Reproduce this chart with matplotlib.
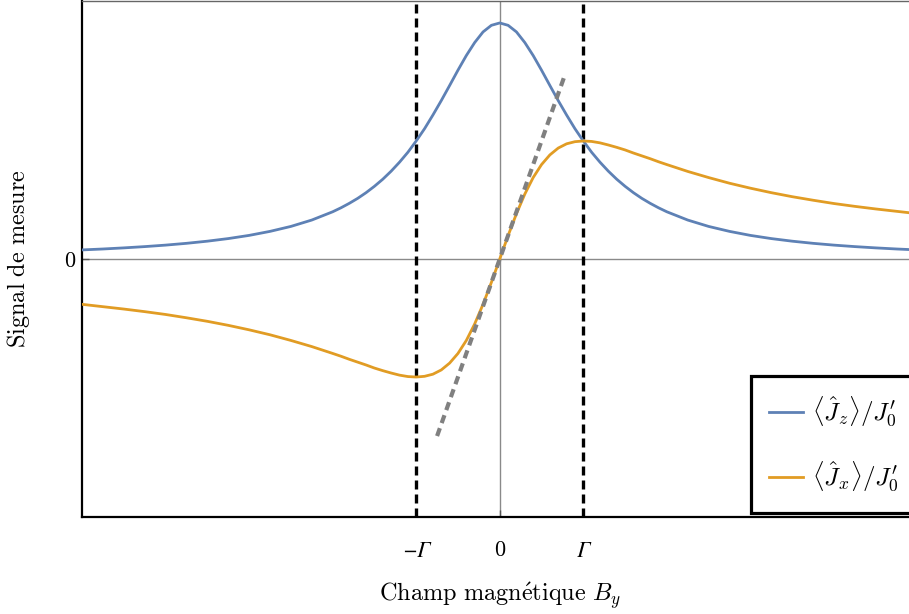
import numpy as np
import matplotlib.pyplot as plt

plt.rcParams['mathtext.fontset'] = 'cm'
plt.rcParams['font.family'] = ['Liberation Serif', 'DejaVu Serif']

# champ en unites de Gamma
B = [-5, -4.75, -4.5, -4.25, -4, -3.75, -3.5, -3.25, -3, -2.75, -2.5, -2.25,
     -2, -1.9, -1.8, -1.7, -1.6, -1.5, -1.4, -1.3, -1.2, -1.1,
     -1, -0.9, -0.8, -0.7, -0.6, -0.5, -0.4, -0.3, -0.2, -0.1,
     0, 0.1, 0.2, 0.3, 0.4, 0.5, 0.6, 0.7, 0.8, 0.9,
     1, 1.1, 1.2, 1.3, 1.4, 1.5, 1.6, 1.7, 1.8, 1.9,
     2, 2.25, 2.5, 2.75, 3, 3.25, 3.5, 3.75, 4, 4.25, 4.5, 4.75, 5]
Jz = [0.0385, 0.0424, 0.0471, 0.0525, 0.0588, 0.0664, 0.0755, 0.0865, 0.100,
      0.117, 0.138, 0.165,
      0.200, 0.217, 0.236, 0.257, 0.281, 0.308, 0.338, 0.372, 0.410, 0.452,
      0.500, 0.552, 0.610, 0.671, 0.735, 0.800, 0.862, 0.917, 0.962, 0.990,
      1.000, 0.990, 0.962, 0.917, 0.862, 0.800, 0.735, 0.671, 0.610, 0.552,
      0.500, 0.452, 0.410, 0.372, 0.338, 0.308, 0.281, 0.257, 0.236, 0.217,
      0.200, 0.165, 0.138, 0.117, 0.100, 0.0865, 0.0755, 0.0664, 0.0588,
      0.0525, 0.0471, 0.0424, 0.0385]
Jx = [-0.192, -0.202, -0.212, -0.223, -0.235, -0.249, -0.264, -0.281, -0.300,
      -0.321, -0.345, -0.371,
      -0.400, -0.412, -0.425, -0.437, -0.449, -0.462, -0.473, -0.483, -0.492,
      -0.498,
      -0.500, -0.497, -0.488, -0.470, -0.441, -0.400, -0.345, -0.275, -0.192,
      -0.099,
      0.000, 0.099, 0.192, 0.275, 0.345, 0.400, 0.441, 0.470, 0.488, 0.497,
      0.500, 0.498, 0.492, 0.483, 0.473, 0.462, 0.449, 0.437, 0.425, 0.412,
      0.400, 0.371, 0.345, 0.321, 0.300, 0.281, 0.264, 0.249, 0.235, 0.223,
      0.212, 0.202, 0.192]
pente_x = [-0.75, 0.78]
pente_y = [-0.75, 0.78]
gammas = [-1, 1]
ticks = [-1, 0, 1]
tick_labels = ['\u2212\u0393', '0', '\u0393']

fig = plt.figure(figsize=(9.09, 6.14), dpi=100)
ax = fig.add_axes([82/909, (614-517)/614, 835.5/909, 516/614])

ax.axhline(0, color='#8a8a8a', lw=1, zorder=1)
ax.axvline(0, color='#8a8a8a', lw=1, zorder=1)
for g in gammas:
    ax.axvline(g, color='black', lw=2.4, ls=(0, (2.7, 1.5)), zorder=2)

ax.plot(B, Jz, color='#5E81B5', lw=2.0, label=r'$\langle\hat{J}_z\rangle/J_{0}^{\prime}$', zorder=3)
ax.plot(B, Jx, color='#E19C24', lw=2.0, label=r'$\langle\hat{J}_x\rangle/J_{0}^{\prime}$', zorder=3)
ax.plot(pente_x, pente_y, color='#808080', lw=3.0, ls=(0, (2.0, 1.3)), zorder=4)

ax.set_xlim(-5, 5)
ax.set_ylim(-1.093, 1.093)
ax.set_xticks(ticks)
ax.set_xticklabels(tick_labels, fontsize=16)
for t in ax.get_xticklabels():
    if '\u0393' in t.get_text():
        t.set_family('STIXGeneral')
        t.set_style('italic')
    else:
        t.set_family('cmr10')
ax.set_yticks([0])
ax.set_yticklabels(['0'], fontsize=16, family='cmr10')
ax.tick_params(direction='in', length=5, color='#555555', width=1)
ax.tick_params(axis='x', pad=17)
ax.tick_params(axis='y', pad=5)

ax.spines['left'].set_linewidth(1.6)
ax.spines['bottom'].set_linewidth(1.6)
ax.spines['top'].set_color('#666666')
ax.spines['top'].set_linewidth(1)

ax.set_xlabel(r'$\mathrm{Champ\ magn\acute{e}tique}\ B_y$', fontsize=17.5, labelpad=14)
ax.set_ylabel(r'$\mathrm{Signal\ de\ mesure}$', fontsize=17.5)
ax.yaxis.set_label_coords(-0.060, 0.5)

leg = ax.legend(loc='lower right', bbox_to_anchor=(1.0, 0.008), borderaxespad=0,
                fontsize=18, fancybox=False, framealpha=1, edgecolor='black',
                handlelength=1.36, handletextpad=0.35, labelspacing=1.25,
                borderpad=0.75)
leg.get_frame().set_linewidth(2.3)

fig.savefig('out.png', dpi=100)
